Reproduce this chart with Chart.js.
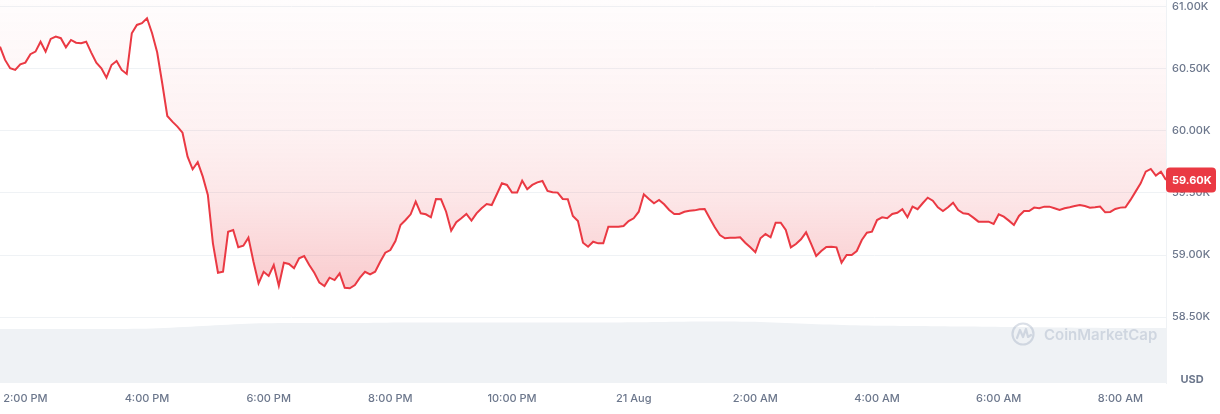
<!DOCTYPE html>
<html>
<head>
<meta charset="utf-8">
<script src="https://cdn.jsdelivr.net/npm/chart.js@4.4.0/dist/chart.umd.min.js"></script>
<style>
  html, body { margin: 0; padding: 0; background: #fff; }
  #wrap { width: 1220px; height: 414px; }
</style>
</head>
<body>
<div id="wrap"><canvas id="chart" width="1220" height="414"></canvas></div>
<script>
// times are minutes after 2:00 PM (20 Aug), prices in thousands of USD
const priceStart = -25;
const priceStep = 5;
const prices = [
  60.680, 60.573, 60.506, 60.492, 60.538, 60.551, 60.619, 60.640, 60.720, 60.640,
  60.742, 60.761, 60.748, 60.675, 60.734, 60.712, 60.707, 60.720, 60.632, 60.551,
  60.506, 60.430, 60.532, 60.565, 60.492, 60.460, 60.788, 60.855, 60.869, 60.909,
  60.788, 60.635, 60.385, 60.121, 60.075, 60.035, 59.986, 59.793, 59.691, 59.748,
  59.632, 59.484, 59.094, 58.857, 58.865, 59.188, 59.202, 59.062, 59.075, 59.140,
  58.946, 58.772, 58.865, 58.831, 58.919, 58.752, 58.938, 58.928, 58.893, 58.973,
  58.992, 58.919, 58.857, 58.777, 58.750, 58.817, 58.798, 58.852, 58.736, 58.732,
  58.758, 58.817, 58.865, 58.844, 58.865, 58.946, 59.019, 59.040, 59.113, 59.242,
  59.282, 59.328, 59.430, 59.336, 59.328, 59.304, 59.452, 59.449, 59.349, 59.196,
  59.264, 59.296, 59.331, 59.277, 59.336, 59.377, 59.411, 59.403, 59.490, 59.578,
  59.565, 59.503, 59.503, 59.599, 59.530, 59.565, 59.586, 59.597, 59.516, 59.506,
  59.503, 59.452, 59.449, 59.315, 59.274, 59.099, 59.067, 59.107, 59.094, 59.094,
  59.228, 59.228, 59.228, 59.234, 59.274, 59.296, 59.349, 59.490, 59.452, 59.417,
  59.444, 59.409, 59.363, 59.331, 59.331, 59.349, 59.357, 59.360, 59.369, 59.371,
  59.296, 59.223, 59.161, 59.135, 59.140, 59.140, 59.143, 59.099, 59.062, 59.022,
  59.135, 59.169, 59.143, 59.261, 59.261, 59.202, 59.062, 59.089, 59.127, 59.183,
  59.089, 58.992, 59.032, 59.065, 59.067, 59.062, 58.938, 59.000, 59.000, 59.032,
  59.121, 59.180, 59.188, 59.282, 59.304, 59.296, 59.331, 59.341, 59.369, 59.304,
  59.390, 59.369, 59.417, 59.462, 59.438, 59.385, 59.355, 59.385, 59.422, 59.363,
  59.336, 59.331, 59.301, 59.269, 59.269, 59.269, 59.250, 59.328, 59.309, 59.277,
  59.242, 59.315, 59.355, 59.355, 59.382, 59.377, 59.390, 59.390, 59.377, 59.363,
  59.377, 59.385, 59.395, 59.403, 59.395, 59.382, 59.385, 59.390, 59.344, 59.347,
  59.371, 59.382, 59.385, 59.444, 59.511, 59.578, 59.672, 59.694, 59.640, 59.672,
  59.605
];

// 24h volume (billions USD), sampled every 50 minutes
const volStart = -25;
const volStep = 50;
const volume = [
  28.20, 28.20, 28.20, 28.46, 29.77, 31.07, 31.33, 31.33, 31.59, 31.59,
  31.59, 31.59, 31.59, 31.85, 32.11, 31.85, 30.81, 30.03, 29.77, 29.50,
  29.24, 28.98, 28.72, 28.72
];

const tickMinutes = [0, 120, 240, 360, 480, 600, 720, 840, 960, 1080];
const tickLabels = ["2:00 PM", "4:00 PM", "6:00 PM", "8:00 PM", "10:00 PM", "21 Aug", "2:00 AM", "4:00 AM", "6:00 AM", "8:00 AM"];
const priceTicks = [58.5, 59.0, 59.5, 60.0, 60.5, 61.0];
const currency = "USD";
const watermark = "CoinMarketCap";

const red = '#ea3943';
const labelColor = '#6c778c';
const font = { family: 'Inter', size: 11, weight: '500' };

// gradient above the price line, faint at the top, stronger near the lows
function fillGradient(context) {
    const chart = context.chart;
    const area = chart.chartArea;
    if (!area) return 'rgba(234,57,67,0.1)';
    const g = chart.ctx.createLinearGradient(0, area.top, 0, area.top + 295);
    g.addColorStop(0, 'rgba(234,57,67,0.01)');
    g.addColorStop(0.45, 'rgba(234,57,67,0.07)');
    g.addColorStop(0.68, 'rgba(234,57,67,0.13)');
    g.addColorStop(1, 'rgba(234,57,67,0.27)');
    return g;
}

const overlay = {
    id: 'overlay',
    afterDraw(chart) {
        const ctx = chart.ctx;
        const y = chart.scales.y;
        const area = chart.chartArea;

        // watermark
        ctx.save();
        const cx = 1023, cy = 334;
        ctx.strokeStyle = 'rgba(150,162,185,0.35)';
        ctx.lineWidth = 2.2;
        ctx.lineJoin = 'round';
        ctx.lineCap = 'round';
        ctx.beginPath();
        ctx.arc(cx, cy, 10.5, 0, Math.PI * 2);
        ctx.stroke();
        ctx.beginPath();
        ctx.moveTo(cx - 6, cy + 4);
        ctx.lineTo(cx - 3, cy - 4);
        ctx.lineTo(cx, cy + 3);
        ctx.lineTo(cx + 3, cy - 5);
        ctx.lineTo(cx + 5, cy + 3);
        ctx.lineTo(cx + 8, cy + 1);
        ctx.stroke();
        ctx.fillStyle = 'rgba(150,162,185,0.35)';
        ctx.font = '600 15px Inter';
        ctx.textAlign = 'left';
        ctx.textBaseline = 'middle';
        ctx.fillText(watermark, 1044, cy + 1);
        ctx.restore();

        // current price tag
        const last = prices[prices.length - 1];
        const py = y.getPixelForValue(last);
        ctx.save();
        ctx.fillStyle = red;
        ctx.beginPath();
        ctx.roundRect(area.right, py - 12.5, 50, 25, 4);
        ctx.fill();
        ctx.fillStyle = '#fff';
        ctx.font = 'bold 11px Inter';
        ctx.textAlign = 'left';
        ctx.textBaseline = 'middle';
        ctx.fillText(last.toFixed(2) + 'K', area.right + 6, py + 0.5);

        // currency label
        ctx.fillStyle = labelColor;
        ctx.textAlign = 'center';
        ctx.fillText(currency, 1192, 380);
        ctx.restore();
    }
};

const ctx = document.getElementById('chart').getContext('2d');
new Chart(ctx, {
    type: 'line',
    data: {
        datasets: [
            {
                label: 'Price',
                data: prices.map((p, i) => ({ x: priceStart + i * priceStep, y: p })),
                yAxisID: 'y',
                borderColor: red,
                borderWidth: 2,
                pointRadius: 0,
                tension: 0,
                fill: 'end',
                backgroundColor: fillGradient,
                order: 1
            },
            {
                label: 'Volume',
                data: volume.map((v, i) => ({ x: volStart + i * volStep, y: v })),
                yAxisID: 'yv',
                borderWidth: 0,
                borderColor: 'rgba(0,0,0,0)',
                pointRadius: 0,
                tension: 0.3,
                fill: 'origin',
                backgroundColor: '#eff2f5',
                order: 2
            }
        ]
    },
    options: {
        responsive: false,
        animation: false,
        events: [],
        layout: { padding: 0 },
        plugins: {
            legend: { display: false },
            tooltip: { enabled: false }
        },
        scales: {
            x: {
                type: 'linear',
                min: -25,
                max: 1125,
                grid: { display: false, drawTicks: false },
                border: { display: false },
                afterBuildTicks: s => { s.ticks = tickMinutes.map(v => ({ value: v })); },
                afterFit: s => { s.height = 31; s.paddingLeft = 0; s.paddingRight = 0; },
                ticks: {
                    padding: 9,
                    autoSkip: false,
                    maxRotation: 0,
                    color: labelColor,
                    font: font,
                    callback: v => tickLabels[tickMinutes.indexOf(v)]
                }
            },
            y: {
                position: 'right',
                min: 57.968,
                max: 61.056,
                grid: { color: '#eff2f5', drawTicks: false },
                border: { color: '#eff2f5' },
                afterBuildTicks: s => { s.ticks = priceTicks.map(v => ({ value: v })); },
                afterFit: s => { s.width = 54; s.paddingTop = 0; s.paddingBottom = 0; },
                ticks: {
                    padding: 6,
                    color: labelColor,
                    font: font,
                    callback: v => v.toFixed(2) + 'K'
                }
            },
            yv: {
                display: false,
                min: 0,
                max: 200
            }
        }
    },
    plugins: [overlay]
});
</script>
</body>
</html>
